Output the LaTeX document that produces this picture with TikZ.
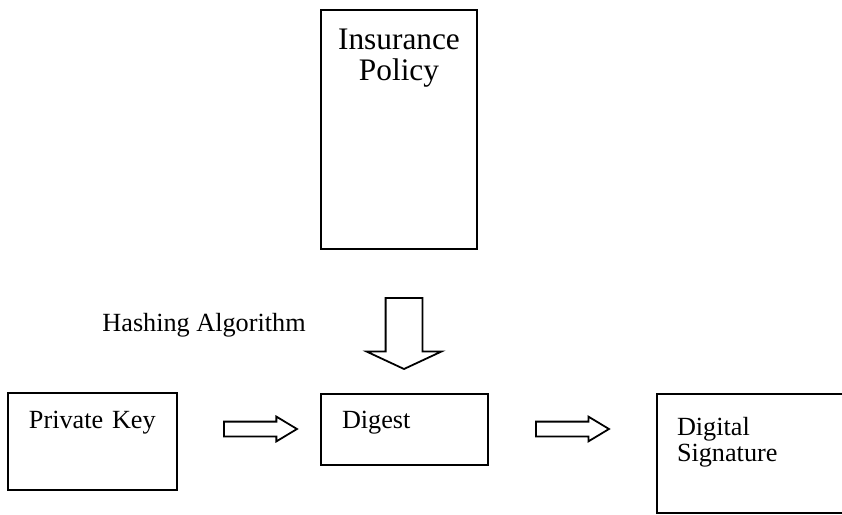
\documentclass[tikz,border=0pt]{standalone}
\usepackage{fontspec}
\setmainfont{Liberation Serif}
\usetikzlibrary{shapes.arrows}

% one drawing unit
\newdimen\unitpx
\unitpx=0.45pt

\tikzset{
  docbox/.style={draw, line width=0.9pt, anchor=north west, inner xsep=21\unitpx,
    inner ysep=0pt, outer sep=0pt, align=left, font=\fontsize{11.8}{11.7}\selectfont},
  blockarrow/.style={single arrow, draw, line width=0.8pt, anchor=tip, inner xsep=0pt,
    outer sep=0pt, minimum width=0pt},
  sidearrow/.style={blockarrow, minimum height=73\unitpx, inner ysep=6.5\unitpx,
    single arrow head extend=5\unitpx, single arrow tip angle=62}
}

\begin{document}
\begin{tikzpicture}[x=0.45pt, y=-0.45pt]
    \useasboundingbox (0,0) rectangle (842,515);
    \clip (0,0) rectangle (842,515);

    % document on top
    \node[docbox, inner xsep=0pt, align=center, text width=156\unitpx,
          text height=40\unitpx, text depth=199\unitpx,
          font=\fontsize{14.1}{13.95}\selectfont] (policy) at (321,10) {Insurance\\Policy};

    % hashing step
    \node[blockarrow, rotate=-90, minimum height=71\unitpx, inner ysep=17.5\unitpx,
          single arrow head extend=19\unitpx, single arrow tip angle=130] (hash) at (404,369) {};
    \node[anchor=base west, inner sep=0pt, font=\fontsize{11.8}{14}\selectfont] (hashlabel) at (102,332) {Hashing Algorithm};

    % bottom row
    \node[docbox, text width=127\unitpx, text height=35\unitpx, text depth=62\unitpx] (key) at (8,393) {Private Key};
    \node[docbox, text width=125\unitpx, text height=34\unitpx, text depth=37\unitpx] (digest) at (321,394) {Digest};
    \node[docbox, inner xsep=20\unitpx, text width=160\unitpx, text height=41\unitpx,
          text depth=78\unitpx] (signature) at (657,394) {Digital\\Signature};

    \node[sidearrow] (sign) at (297,429) {};
    \node[sidearrow] (encrypt) at (609,429) {};
\end{tikzpicture}
\end{document}
